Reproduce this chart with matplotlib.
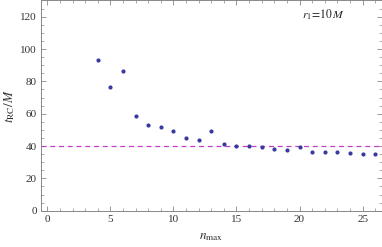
import matplotlib
matplotlib.use("Agg")
import matplotlib.pyplot as plt
from matplotlib.ticker import MultipleLocator

n_max = [4, 5, 6, 7, 8, 9, 10, 11, 12, 13, 14, 15, 16, 17, 18, 19, 20, 21, 22, 23, 24, 25, 26]
t_rc = [93.2, 76.5, 86.6, 58.6, 52.9, 51.7, 49.2, 44.9, 43.7, 49.0, 41.2, 40.1, 40.3, 39.5,
        37.9, 37.7, 39.7, 36.4, 36.0, 36.4, 35.6, 35.0, 35.0]
ref_level = 39.8

plt.rcParams['font.family'] = ['Liberation Serif', 'DejaVu Serif']
plt.rcParams['mathtext.fontset'] = 'stix'

fig = plt.figure(figsize=(3.82, 2.47), dpi=100)
ax = fig.add_axes([41/382, 1 - 210.7/247, (381.5-41)/382, 210.7/247 - 0.002])

ax.axhline(ref_level, color='#c040c8', lw=0.9, dashes=(4, 3))
ax.plot(n_max, t_rc, 'o', color='#3a3a9e', ms=3.0, mew=0)

ax.set_xlim(-0.5, 26.5)
ax.set_ylim(0, 130)
ax.xaxis.set_major_locator(MultipleLocator(5))
ax.xaxis.set_minor_locator(MultipleLocator(1))
ax.yaxis.set_major_locator(MultipleLocator(20))
ax.yaxis.set_minor_locator(MultipleLocator(5))
ax.tick_params(which='both', direction='in', top=True, right=True, color='#888888',
               labelsize=8, labelcolor='#333333', pad=3)
ax.tick_params(which='major', length=3.5, width=0.6)
ax.tick_params(which='minor', length=2, width=0.5)
for s in ax.spines.values():
    s.set_color('#888888')
    s.set_linewidth(0.7)

ax.set_xlabel(r'$n_{\max}$', fontsize=9.5, color='#333333', labelpad=5)
ax.set_ylabel(r'$t_{\rm RC}/M$', fontsize=9.5, color='#333333', labelpad=2)
ax.text(0.83, 0.93, r'$r_1\!=\!10\,M$', transform=ax.transAxes, ha='center', va='center',
        fontsize=8.5, color='#222222')

fig.savefig('out.png', dpi=100)
